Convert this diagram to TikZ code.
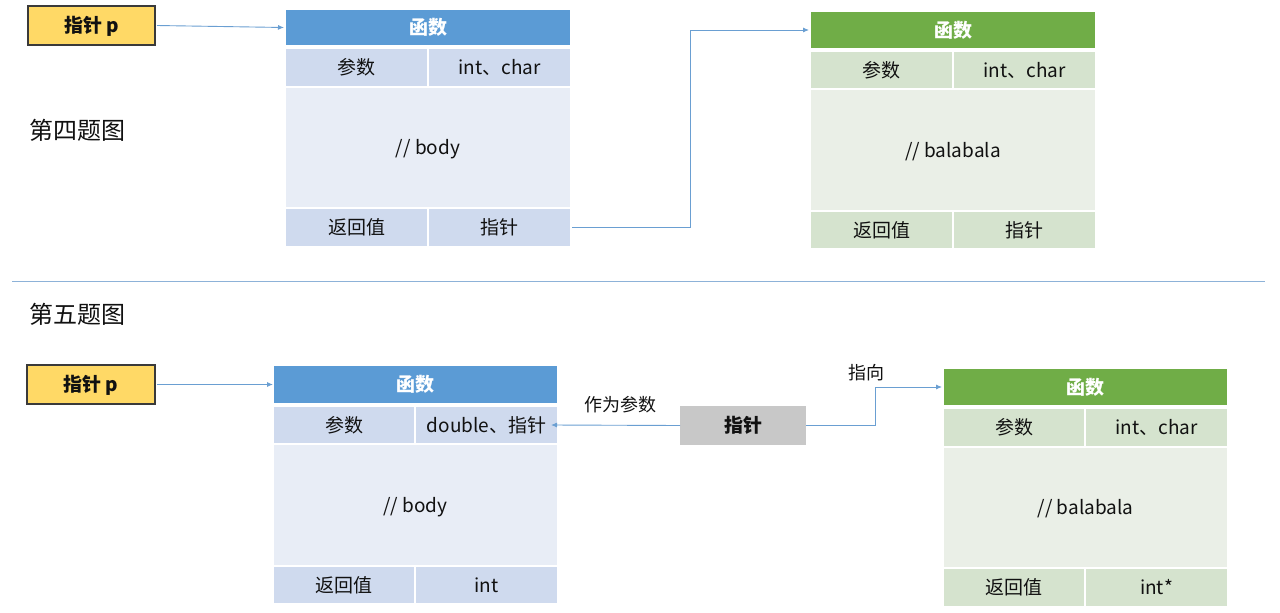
\documentclass[tikz,border=0pt]{standalone}
\usepackage{fontspec}
\setmainfont{Noto Sans CJK SC}
\usetikzlibrary{arrows.meta,calc}
\definecolor{bhead}{HTML}{5B9BD5}
\definecolor{brow}{HTML}{CFDAEE}
\definecolor{bbody}{HTML}{E8EDF6}
\definecolor{ghead}{HTML}{70AD47}
\definecolor{grow}{HTML}{D5E3CE}
\definecolor{gbody}{HTML}{EAEFE7}
\definecolor{yfill}{HTML}{FFD966}
\definecolor{ybord}{HTML}{3A3A3A}
\definecolor{gfill}{HTML}{C8C8C8}
\definecolor{conncol}{HTML}{6A9FD2}
\definecolor{divcol}{HTML}{8DB2D8}
\definecolor{txt}{HTML}{111111}
\newcommand{\mycell}[7]{%
  \node[cellbox, fill=#6, minimum width={(#4-#2)*1pt}, minimum height={(#5-#3)*1pt}]
    (#1) at ({(#2+#4)/2},{(#3+#5)/2}) {#7};}
\tikzset{
  cellbox/.style={rectangle, inner sep=0pt, outer sep=0pt, text=txt,
    font=\fontsize{19}{21}\selectfont, text height=16pt, text depth=1.6pt},
  conn/.style={draw=conncol, line width=0.9pt, -{Latex[length=6pt,width=5pt]}},
  title/.style={text=txt, font=\fontsize{24}{26}\selectfont, inner sep=0pt,
    text height=20pt, text depth=1.8pt},
  lbl/.style={text=txt, font=\fontsize{18}{20}\selectfont, inner sep=0pt,
    text height=15pt, text depth=1.4pt},
}
\begin{document}
\begin{tikzpicture}[x=1pt,y=-1pt]
\useasboundingbox (0,0) rectangle (1280,613);
\fill[white] (0,0) rectangle (1280,613);

% ---- top blue table
\mycell{h1}{286}{10}{570}{45}{bhead}{\textcolor{white}{\bfseries 函数}}
\mycell{p1}{286}{49}{427}{86}{brow}{参数}
\mycell{t1}{429}{49}{570}{86}{brow}{int、char}
\mycell{b1}{286}{88}{570}{207}{bbody}{// body}
\mycell{r1}{286}{209}{427}{246}{brow}{返回值}
\mycell{q1}{429}{209}{570}{246}{brow}{指针}

% ---- top green table
\mycell{h2}{811}{12}{1095}{48}{ghead}{\textcolor{white}{\bfseries 函数}}
\mycell{p2}{811}{52}{952}{88}{grow}{参数}
\mycell{t2}{954}{52}{1095}{88}{grow}{int、char}
\mycell{b2}{811}{90}{1095}{210}{gbody}{// balabala}
\mycell{r2}{811}{212}{952}{248}{grow}{返回值}
\mycell{q2}{954}{212}{1095}{248}{grow}{指针}

% ---- bottom blue table
\mycell{h3}{274}{366}{557}{403}{bhead}{\textcolor{white}{\bfseries 函数}}
\mycell{p3}{274}{407}{414}{443}{brow}{参数}
\mycell{t3}{416}{407}{557}{443}{brow}{double、指针}
\mycell{b3}{274}{445}{557}{565}{bbody}{// body}
\mycell{r3}{274}{567}{414}{603}{brow}{返回值}
\mycell{q3}{416}{567}{557}{603}{brow}{int}

% ---- bottom green table
\mycell{h4}{944}{369}{1227}{405}{ghead}{\textcolor{white}{\bfseries 函数}}
\mycell{p4}{944}{409}{1084}{446}{grow}{参数}
\mycell{t4}{1086}{409}{1227}{446}{grow}{int、char}
\mycell{b4}{944}{448}{1227}{567}{gbody}{// balabala}
\mycell{r4}{944}{569}{1084}{606}{grow}{返回值}
\mycell{q4}{1086}{569}{1227}{606}{grow}{int*}

% ---- pointer boxes
\node[cellbox, fill=yfill, draw=ybord, line width=1.2pt, minimum width=127pt, minimum height=39pt,
  font=\fontsize{19}{21}\selectfont\bfseries] (y1) at (91.5,25.5) {指针 p};
\node[cellbox, fill=yfill, draw=ybord, line width=1.2pt, minimum width=128pt, minimum height=39pt,
  font=\fontsize{19}{21}\selectfont\bfseries] (y2) at (91,384.5) {指针 p};
\mycell{g}{680}{406}{806}{445}{gfill}{\bfseries 指针}

% ---- titles and labels
\node[title] (s4) at (77,130) {第四题图};
\node[title] (s5) at (77,314) {第五题图};
\node[lbl] (l1) at (620,405) {作为参数};
\node[lbl] (l2) at (866,373) {指向};

% ---- divider
\coordinate (dl) at (12,281);
\coordinate (dr) at (1265,281);
\draw[divcol, line width=1pt] (dl) -- (dr);

% ---- connectors
\coordinate (k1) at (690,0);
\coordinate (k2) at (875,0);
\coordinate (t3tip) at ([xshift=-6pt]t3.east);
\draw[conn] ([xshift=2pt]y1.east) -- ([xshift=-2pt]h1.west);
\draw[conn] ([xshift=2pt]q1.east) -- (q1.east -| k1) |- ([xshift=-2pt]h2.west);
\draw[conn] ([xshift=2pt]y2.east) -- ([xshift=-1pt]h3.west);
\draw[conn] (g.west) -- (t3tip);
\draw[conn] (g.east) -- (g.east -| k2) |- ([xshift=-2pt]h4.west);
\end{tikzpicture}
\end{document}
